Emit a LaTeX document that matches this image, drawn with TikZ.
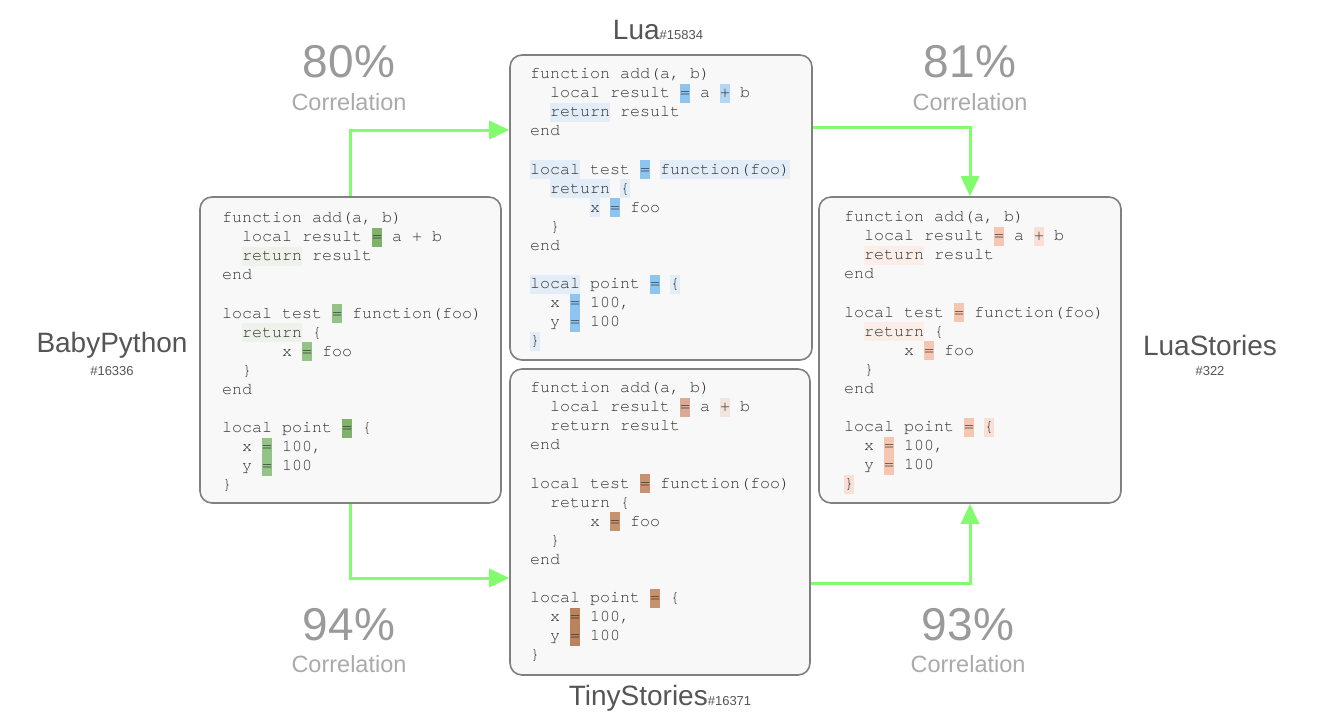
\documentclass[tikz,border=0pt]{standalone}
\usepackage{fontspec}
\setmainfont{Liberation Sans}
\newfontfamily\codefont{texgyrecursor-regular.otf}
\usetikzlibrary{arrows.meta}

\definecolor{boxfill}{HTML}{F8F8F8}
\definecolor{boxborder}{HTML}{808080}
\definecolor{codegray}{HTML}{333333}
\definecolor{namegray}{HTML}{555555}
\definecolor{pctgray}{HTML}{9A9A9A}
\definecolor{corrgray}{HTML}{AAAAAA}
\definecolor{flowgreen}{HTML}{82FC6E}
% Lua (blue)
\definecolor{luaS}{HTML}{8EC4F0}
\definecolor{luaM}{HTML}{B2D6F3}
\definecolor{luaL}{HTML}{E3EDF7}
% BabyPython (green)
\definecolor{babyS}{HTML}{80B26D}
\definecolor{babyM}{HTML}{93C386}
\definecolor{babyL}{HTML}{EDF2EA}
% TinyStories (brown)
\definecolor{tinyA}{HTML}{DBAA94}
\definecolor{tinyXL}{HTML}{F2E4DE}
\definecolor{tinyB}{HTML}{C8926F}
\definecolor{tinyC}{HTML}{BA825D}
% LuaStories (peach)
\definecolor{lsM}{HTML}{F6C6B0}
\definecolor{lsL}{HTML}{FAE0D4}
\definecolor{lsXL}{HTML}{FBEEE8}

\newcommand\pitchv{19.1}
% \hlt{x0}{y0}{line}{col}{ncols}{color}
\newcommand\hlt[6]{\fill[#6] ({#1+#4*10},{#2+#3*\pitchv-9.55}) rectangle ++({#5*10},{\pitchv});}
% \codelines{prefix}{x0}{y0}
\newcommand\codelines[3]{%
\node[codeline] (#1-0) at ({#2},{#3+4.5}) {function add(a, b)};
\node[codeline] (#1-1) at ({#2+20},{#3+1*\pitchv+4.5}) {local result = a + b};
\node[codeline] (#1-2) at ({#2+20},{#3+2*\pitchv+4.5}) {return result};
\node[codeline] (#1-3) at ({#2},{#3+3*\pitchv+4.5}) {end};
\node[codeline] (#1-5) at ({#2},{#3+5*\pitchv+4.5}) {local test = function(foo)};
\node[codeline] (#1-6) at ({#2+20},{#3+6*\pitchv+4.5}) {return \{};
\node[codeline] (#1-7) at ({#2+60},{#3+7*\pitchv+4.5}) {x = foo};
\node[codeline] (#1-8) at ({#2+20},{#3+8*\pitchv+4.5}) {\}};
\node[codeline] (#1-9) at ({#2},{#3+9*\pitchv+4.5}) {end};
\node[codeline] (#1-11) at ({#2},{#3+11*\pitchv+4.5}) {local point = \{};
\node[codeline] (#1-12) at ({#2+20},{#3+12*\pitchv+4.5}) {x = 100,};
\node[codeline] (#1-13) at ({#2+20},{#3+13*\pitchv+4.5}) {y = 100};
\node[codeline] (#1-14) at ({#2},{#3+14*\pitchv+4.5}) {\}};
}

\tikzset{
  codebox/.style={draw=boxborder, line width=1.6pt, fill=boxfill, rounded corners=12pt, inner sep=0pt},
  codeline/.style={anchor=base west, inner sep=0pt, outer sep=0pt, text=codegray,
    font=\codefont\fontsize{16.67}{19}\selectfont},
  flow/.style={draw=flowgreen, line width=3pt, -{Triangle[length=20pt,width=18pt]}},
  namelbl/.style={inner sep=0pt, text=namegray, font=\fontsize{28}{30}\selectfont},
  idlbl/.style={inner sep=0pt, text=namegray, font=\fontsize{13}{14}\selectfont},
  pctlbl/.style={inner sep=0pt, text=pctgray, font=\fontsize{46}{48}\selectfont},
  corrlbl/.style={inner sep=0pt, text=corrgray, font=\fontsize{23.5}{25}\selectfont},
}

\begin{document}
\begin{tikzpicture}[x=1pt,y=-1pt]
\fill[white] (0,0) rectangle (1320,726);
\useasboundingbox (0,0) rectangle (1320,726);

% boxes
\node[codebox, minimum width=302pt, minimum height=305pt] (lua) at (661,207.5) {};
\node[codebox, minimum width=300pt, minimum height=306pt] (tiny) at (660,522) {};
\node[codebox, minimum width=301pt, minimum height=306pt] (baby) at (350.5,350) {};
\node[codebox, minimum width=302pt, minimum height=306pt] (luast) at (970,350) {};

% Lua highlights
\hlt{530}{74}{1}{15}{1}{luaS}
\hlt{530}{74}{1}{19}{1}{luaM}
\hlt{530}{74}{2}{2}{6}{luaL}
\hlt{530}{74}{5}{0}{5}{luaL}
\hlt{530}{74}{5}{11}{1}{luaS}
\hlt{530}{74}{5}{13}{13}{luaL}
\hlt{530}{74}{6}{2}{6}{luaL}
\hlt{530}{74}{6}{9}{1}{luaL}
\hlt{530}{74}{7}{6}{1}{luaL}
\hlt{530}{74}{7}{8}{1}{luaS}
\hlt{530}{74}{11}{0}{5}{luaL}
\hlt{530}{74}{11}{12}{1}{luaS}
\hlt{530}{74}{11}{14}{1}{luaL}
\hlt{530}{74}{12}{4}{1}{luaS}
\hlt{530}{74}{13}{4}{1}{luaS}
\hlt{530}{74}{14}{0}{1}{luaL}

% BabyPython highlights
\hlt{222}{218}{1}{15}{1}{babyS}
\hlt{222}{218}{2}{2}{6}{babyL}
\hlt{222}{218}{5}{11}{1}{babyM}
\hlt{222}{218}{6}{2}{6}{babyL}
\hlt{222}{218}{7}{8}{1}{babyM}
\hlt{222}{218}{11}{12}{1}{babyS}
\hlt{222}{218}{12}{4}{1}{babyM}
\hlt{222}{218}{13}{4}{1}{babyM}

% TinyStories highlights
\hlt{530}{388}{1}{15}{1}{tinyA}
\hlt{530}{388}{1}{19}{1}{tinyXL}
\hlt{530}{388}{5}{11}{1}{tinyB}
\hlt{530}{388}{7}{8}{1}{tinyB}
\hlt{530}{388}{11}{12}{1}{tinyB}
\hlt{530}{388}{12}{4}{1}{tinyC}
\hlt{530}{388}{13}{4}{1}{tinyC}

% LuaStories highlights
\hlt{844}{217}{1}{15}{1}{lsM}
\hlt{844}{217}{1}{19}{1}{lsL}
\hlt{844}{217}{2}{2}{6}{lsXL}
\hlt{844}{217}{5}{11}{1}{lsM}
\hlt{844}{217}{6}{2}{6}{lsXL}
\hlt{844}{217}{7}{8}{1}{lsM}
\hlt{844}{217}{11}{12}{1}{lsM}
\hlt{844}{217}{11}{14}{1}{lsL}
\hlt{844}{217}{12}{4}{1}{lsM}
\hlt{844}{217}{13}{4}{1}{lsM}
\hlt{844}{217}{14}{0}{1}{lsL}

% code
\codelines{luac}{530}{74}
\codelines{babyc}{222}{218}
\codelines{tinyc}{530}{388}
\codelines{lsc}{844}{217}

% connectors
\draw[flow] (baby.north) |- ([yshift=77.5pt]lua.west);
\draw[flow] ([yshift=80pt]lua.east) -| (luast.north);
\draw[flow] (baby.south) |- ([yshift=-56pt]tiny.west);
\draw[flow] ([yshift=-61pt]tiny.east) -| (luast.south);

% names
\node[namelbl] (lualbl) at (658,30) {Lua{\fontsize{13}{14}\selectfont\#15834}};
\node[namelbl] (tinylbl) at (660,698) {TinyStories{\fontsize{13}{14}\selectfont\#16371}};
\node[namelbl] (babylbl) at (112,345) {BabyPython};
\node[idlbl] (babyid) at (112,371) {\#16336};
\node[namelbl] (lslbl) at (1210,345) {LuaStories};
\node[idlbl] (lsid) at (1210,371) {\#322};

% correlations
\node[pctlbl] (p80) at (349,62) {80\%};
\node[corrlbl] (c80) at (349,102) {Correlation};
\node[pctlbl] (p81) at (970,62) {81\%};
\node[corrlbl] (c81) at (970,102) {Correlation};
\node[pctlbl] (p94) at (349,625) {94\%};
\node[corrlbl] (c94) at (349,664) {Correlation};
\node[pctlbl] (p93) at (968,625) {93\%};
\node[corrlbl] (c93) at (968,664) {Correlation};
\end{tikzpicture}
\end{document}
